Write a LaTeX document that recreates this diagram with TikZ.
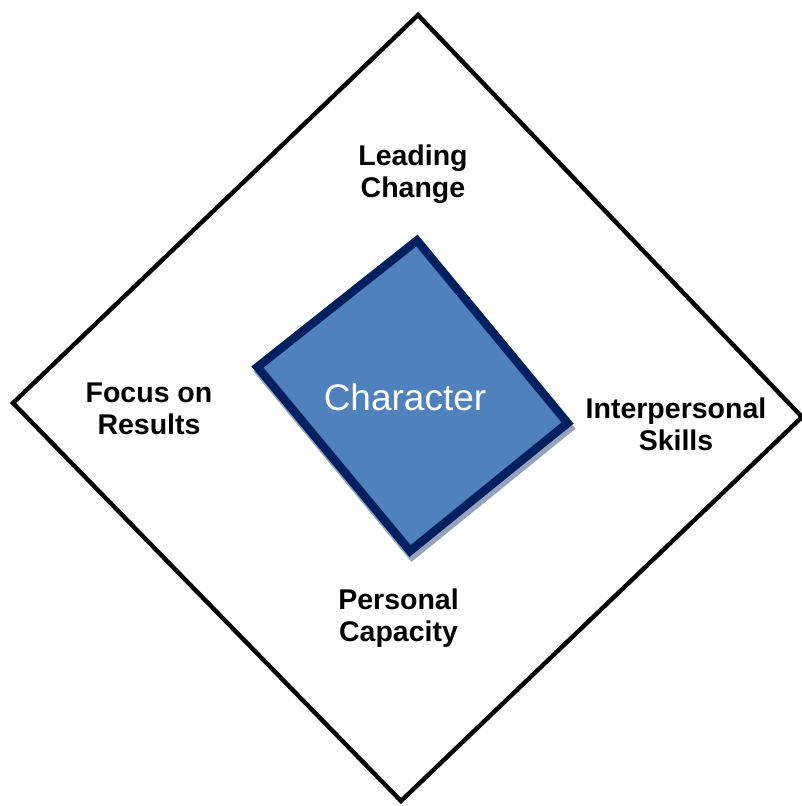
\documentclass[tikz,border=0pt]{standalone}
\usepackage{fontspec}
\setmainfont{Liberation Sans}
\definecolor{charfill}{RGB}{79,129,189}
\definecolor{charline}{RGB}{0,32,96}
\definecolor{charshadow}{RGB}{150,163,188}
\tikzset{
  outerline/.style={draw=black, line width=4.4pt, miter limit=10},
  labeltext/.style={align=center, inner sep=0pt, text=black,
    font=\bfseries\fontsize{28.5}{31.5}\selectfont},
  chartext/.style={inner sep=0pt, text=white, font=\fontsize{37}{40}\selectfont}
}
\begin{document}
\begin{tikzpicture}[x=1pt, y=-1pt]
  \useasboundingbox[fill=white] (0,0) rectangle (801,806);
  % outer diamond corners
  \coordinate (oT) at (418,15);
  \coordinate (oL) at (13,403);
  \coordinate (oB) at (401,801);
  \coordinate (oR) at (802,417);
  \draw[outerline] (oT) -- (oR) -- (oB) -- (oL) -- cycle;
  % inner rectangle corners
  \coordinate (iT) at (417,240.5);
  \coordinate (iL) at (257.4,367);
  \coordinate (iB) at (410,551);
  \coordinate (iR) at (567.6,423);
  % shadow
  \draw[charshadow, fill=charshadow, line width=8.5pt]
    ([shift={(2pt,-5pt)}]iT) -- ([shift={(2pt,-5pt)}]iR) --
    ([shift={(2pt,-5pt)}]iB) -- ([shift={(2pt,-5pt)}]iL) -- cycle;
  \draw[charline, fill=charfill, line width=8.5pt]
    (iT) -- (iR) -- (iB) -- (iL) -- cycle;
  \node[chartext, anchor=base] (character) at (405,410) {Character};
  % labels
  \node[labeltext] (leading) at (413,174) {Leading\\Change};
  \node[labeltext] (focus) at (149,409) {Focus on\\Results};
  \node[labeltext] (interp) at (676,424.5) {Interpersonal\\Skills};
  \node[labeltext] (personal) at (398.5,618.3) {Personal\\Capacity};
\end{tikzpicture}
\end{document}
